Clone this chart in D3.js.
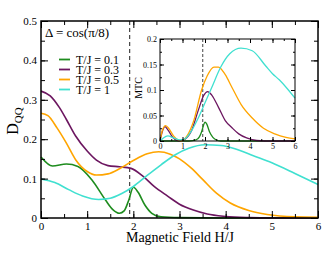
<!DOCTYPE html>
<html>
<head>
<meta charset="utf-8">
<script src="https://cdn.jsdelivr.net/npm/d3@7"></script>
<style>
  body { margin: 0; background: #fff; }
  svg text { font-family: "Liberation Serif", "DejaVu Serif", serif !important; fill: #000; }
</style>
</head>
<body>
<div id="chart"></div>
<script>
// main panel: D_QQ vs H/J, one array per temperature
var dqqT01 = [[0, 0.155], [0.25, 0.132], [0.55, 0.137], [0.8, 0.131], [1.1, 0.097], [1.4, 0.045], [1.55, 0.022], [1.7, 0.012], [1.8, 0.018], [1.9, 0.045], [2.0, 0.078], [2.1, 0.066], [2.25, 0.033], [2.4, 0.012], [2.6, 0.003], [3, 0.001], [4, 0], [5, 0], [6, 0]]
var dqqT03 = [[0, 0.322], [0.2, 0.31], [0.4, 0.28], [0.55, 0.25], [0.75, 0.208], [1.0, 0.17], [1.2, 0.147], [1.45, 0.133], [1.7, 0.13], [1.95, 0.126], [2.2, 0.107], [2.45, 0.08], [2.75, 0.055], [3.0, 0.035], [3.3, 0.02], [3.6, 0.01], [4.0, 0.004], [4.5, 0.001], [5, 0], [6, 0]]
var dqqT05 = [[0, 0.266], [0.15, 0.26], [0.35, 0.228], [0.55, 0.19], [0.75, 0.148], [1.0, 0.118], [1.2, 0.109], [1.45, 0.112], [1.7, 0.125], [2.0, 0.146], [2.3, 0.163], [2.55, 0.168], [2.8, 0.162], [3.0, 0.15], [3.25, 0.127], [3.5, 0.098], [3.8, 0.063], [4.1, 0.038], [4.5, 0.019], [4.9, 0.009], [5.5, 0.003], [6, 0.002]]
var dqqT1 = [[0, 0.099], [0.3, 0.09], [0.6, 0.072], [0.9, 0.056], [1.25, 0.047], [1.5, 0.05], [1.75, 0.062], [2.0, 0.08], [2.3, 0.108], [2.6, 0.135], [2.9, 0.16], [3.2, 0.177], [3.55, 0.186], [3.9, 0.184], [4.2, 0.176], [4.6, 0.158], [5.0, 0.14], [5.5, 0.113], [6.0, 0.085]]

// inset: MTC vs H/J
var mtcT01 = [[0, 0], [1.3, 0], [1.6, 0.002], [1.75, 0.008], [1.85, 0.018], [1.95, 0.033], [2.0, 0.037], [2.08, 0.033], [2.2, 0.018], [2.35, 0.007], [2.5, 0.002], [2.7, 0], [6, 0]]
var mtcT03 = [[0, 0], [0.1, 0.018], [0.22, 0.028], [0.35, 0.022], [0.55, 0.008], [0.75, 0.001], [0.9, 0], [1.1, 0.003], [1.4, 0.02], [1.7, 0.06], [1.95, 0.09], [2.12, 0.097], [2.3, 0.09], [2.6, 0.066], [2.9, 0.04], [3.2, 0.026], [3.5, 0.014], [3.85, 0.006], [4.3, 0.001], [5, 0], [6, 0]]
var mtcT05 = [[0, 0], [0.1, 0.02], [0.25, 0.03], [0.4, 0.024], [0.6, 0.01], [0.8, 0.002], [0.95, 0], [1.2, 0.01], [1.5, 0.04], [1.85, 0.1], [2.1, 0.128], [2.4, 0.145], [2.6, 0.145], [2.9, 0.13], [3.2, 0.105], [3.6, 0.072], [4.1, 0.045], [4.6, 0.025], [5.1, 0.014], [5.6, 0.007], [6, 0.004]]
var mtcT1 = [[0, 0], [0.15, 0.006], [0.35, 0.01], [0.6, 0.006], [0.9, 0.002], [1.1, 0.004], [1.4, 0.02], [1.7, 0.045], [2.0, 0.075], [2.3, 0.105], [2.7, 0.145], [3.1, 0.171], [3.6, 0.182], [4.1, 0.177], [4.7, 0.147], [5.0, 0.132], [5.3, 0.12], [5.65, 0.103], [6, 0.084]]

var seriesNames = ['T/J = 0.1', 'T/J = 0.3', 'T/J = 0.5', 'T/J = 1']
var seriesColors = ['#1e8c1e', '#6c1660', '#ffa500', '#40e0d0']

var xTicks = [0, 1, 2, 3, 4, 5, 6]
var yTicks = [0, 0.1, 0.2, 0.3, 0.4, 0.5]
var insetYTicks = [0, 0.05, 0.1, 0.15, 0.2]
var dashedH = 1.92

const width = 332
const height = 257
const serif = '"Liberation Serif", "DejaVu Serif", serif'

var svg = d3.select('#chart')
  .append('svg')
  .attr('width', width)
  .attr('height', height)
  .attr('font-family', serif)

// tick marks pointing into the frame on every side
function drawFrame (g, x, y, xMajor, xMinor, yMajor, yMinor, big, small, fontSize, xPad, yPad) {
  var x0 = x.range()[0], x1 = x.range()[1]
  var y0 = y.range()[0], y1 = y.range()[1]
  g.append('g').attr('transform', 'translate(0,' + y0 + ')')
    .call(d3.axisBottom(x).tickValues(xMinor).tickSize(-small).tickFormat(''))
  g.append('g').attr('transform', 'translate(0,' + y1 + ')')
    .call(d3.axisTop(x).tickValues(xMinor).tickSize(-small).tickFormat(''))
  g.append('g').attr('transform', 'translate(' + x0 + ',0)')
    .call(d3.axisLeft(y).tickValues(yMinor).tickSize(-small).tickFormat(''))
  g.append('g').attr('transform', 'translate(' + x1 + ',0)')
    .call(d3.axisRight(y).tickValues(yMinor).tickSize(-small).tickFormat(''))
  g.append('g').attr('transform', 'translate(0,' + y0 + ')')
    .call(d3.axisBottom(x).tickValues(xMajor).tickSize(-big).tickPadding(xPad).tickFormat(d3.format('')))
  g.append('g').attr('transform', 'translate(0,' + y1 + ')')
    .call(d3.axisTop(x).tickValues(xMajor).tickSize(-big).tickFormat(''))
  g.append('g').attr('transform', 'translate(' + x0 + ',0)')
    .call(d3.axisLeft(y).tickValues(yMajor).tickSize(-big).tickPadding(yPad).tickFormat(d3.format('')))
  g.append('g').attr('transform', 'translate(' + x1 + ',0)')
    .call(d3.axisRight(y).tickValues(yMajor).tickSize(-big).tickFormat(''))
  g.selectAll('.domain').remove()
  g.selectAll('g').attr('font-family', serif).attr('font-size', fontSize)
  g.selectAll('.tick line').attr('stroke', '#000')
  g.selectAll('.tick text').attr('fill', '#000')
}

function halves (lo, hi, step) {
  var out = []
  for (var i = 0; lo + i * step <= hi + 1e-9; i++) out.push(+(lo + i * step).toFixed(4))
  return out
}

// ---- main panel ----
var x = d3.scaleLinear().domain([0, 6]).range([41, 318])
var y = d3.scaleLinear().domain([0, 0.5]).range([218, 21])

var main = svg.append('g')

var line = d3.line()
  .x(function (d) { return x(d[0]) })
  .y(function (d) { return y(d[1]) })
  .curve(d3.curveMonotoneX)

main.append('line')
  .attr('x1', x(dashedH)).attr('x2', x(dashedH))
  .attr('y1', y(0.5)).attr('y2', y(0))
  .attr('stroke', '#444')
  .attr('stroke-width', 1.2)
  .attr('stroke-dasharray', '4,3')

var mainSeries = [dqqT01, dqqT03, dqqT05, dqqT1]
main.selectAll('.curve')
  .data(mainSeries)
  .enter().append('path')
  .attr('class', 'curve')
  .attr('d', line)
  .attr('fill', 'none')
  .attr('stroke', function (d, i) { return seriesColors[i] })
  .attr('stroke-width', 1.6)

drawFrame(main, x, y, xTicks, halves(0, 6, 0.5), yTicks, halves(0, 0.5, 0.05), 7, 4, '11px', 4, 4)

main.append('rect')
  .attr('x', 41).attr('y', 21)
  .attr('width', 318 - 41).attr('height', 218 - 21)
  .attr('fill', 'none')
  .attr('stroke', '#000')
  .attr('stroke-width', 1.5)

// legend
main.append('text')
  .attr('x', 45).attr('y', 37)
  .attr('font-size', '13px')
  .text('Δ = cos(π/8)')

var legend = main.selectAll('.leg')
  .data(seriesNames)
  .enter().append('g')
  .attr('class', 'leg')
  .attr('transform', function (d, i) { return 'translate(0,' + (59.5 + i * 10) + ')' })
legend.append('line')
  .attr('x1', 59).attr('x2', 70)
  .attr('stroke', function (d, i) { return seriesColors[i] })
  .attr('stroke-width', 1.8)
legend.append('text')
  .attr('x', 76).attr('y', 4)
  .attr('font-size', '12px')
  .text(function (d) { return d })

// axis titles
main.append('text')
  .attr('x', 180).attr('y', 242)
  .attr('text-anchor', 'middle')
  .attr('font-size', '14px')
  .text('Magnetic Field H/J')

var ylab = main.append('text')
  .attr('transform', 'translate(18,121) rotate(-90)')
  .attr('text-anchor', 'middle')
  .attr('font-size', '16px')
ylab.append('tspan').text('D')
ylab.append('tspan').attr('font-size', '11px').attr('dy', 4).text('QQ')

// ---- inset ----
var ix = d3.scaleLinear().domain([0, 6]).range([160, 295])
var iy = d3.scaleLinear().domain([0, 0.2]).range([141, 39])

var inset = svg.append('g')

var iline = d3.line()
  .x(function (d) { return ix(d[0]) })
  .y(function (d) { return iy(d[1]) })
  .curve(d3.curveMonotoneX)

inset.append('line')
  .attr('x1', ix(1.9)).attr('x2', ix(1.9))
  .attr('y1', iy(0.2)).attr('y2', iy(0))
  .attr('stroke', '#444')
  .attr('stroke-width', 1)
  .attr('stroke-dasharray', '3,2')

var insetSeries = [mtcT01, mtcT03, mtcT05, mtcT1]
inset.selectAll('.icurve')
  .data(insetSeries)
  .enter().append('path')
  .attr('class', 'icurve')
  .attr('d', iline)
  .attr('fill', 'none')
  .attr('stroke', function (d, i) { return seriesColors[i] })
  .attr('stroke-width', 1.3)

drawFrame(inset, ix, iy, xTicks, halves(0, 6, 0.5), insetYTicks, halves(0, 0.2, 0.025), 4, 2, '8px', 2, 3)

inset.append('rect')
  .attr('x', 160).attr('y', 39)
  .attr('width', 295 - 160).attr('height', 141 - 39)
  .attr('fill', 'none')
  .attr('stroke', '#000')
  .attr('stroke-width', 1)

inset.append('text')
  .attr('transform', 'translate(142,88) rotate(-90)')
  .attr('text-anchor', 'middle')
  .attr('font-size', '10px')
  .text('MTC')
</script>
</body>
</html>
